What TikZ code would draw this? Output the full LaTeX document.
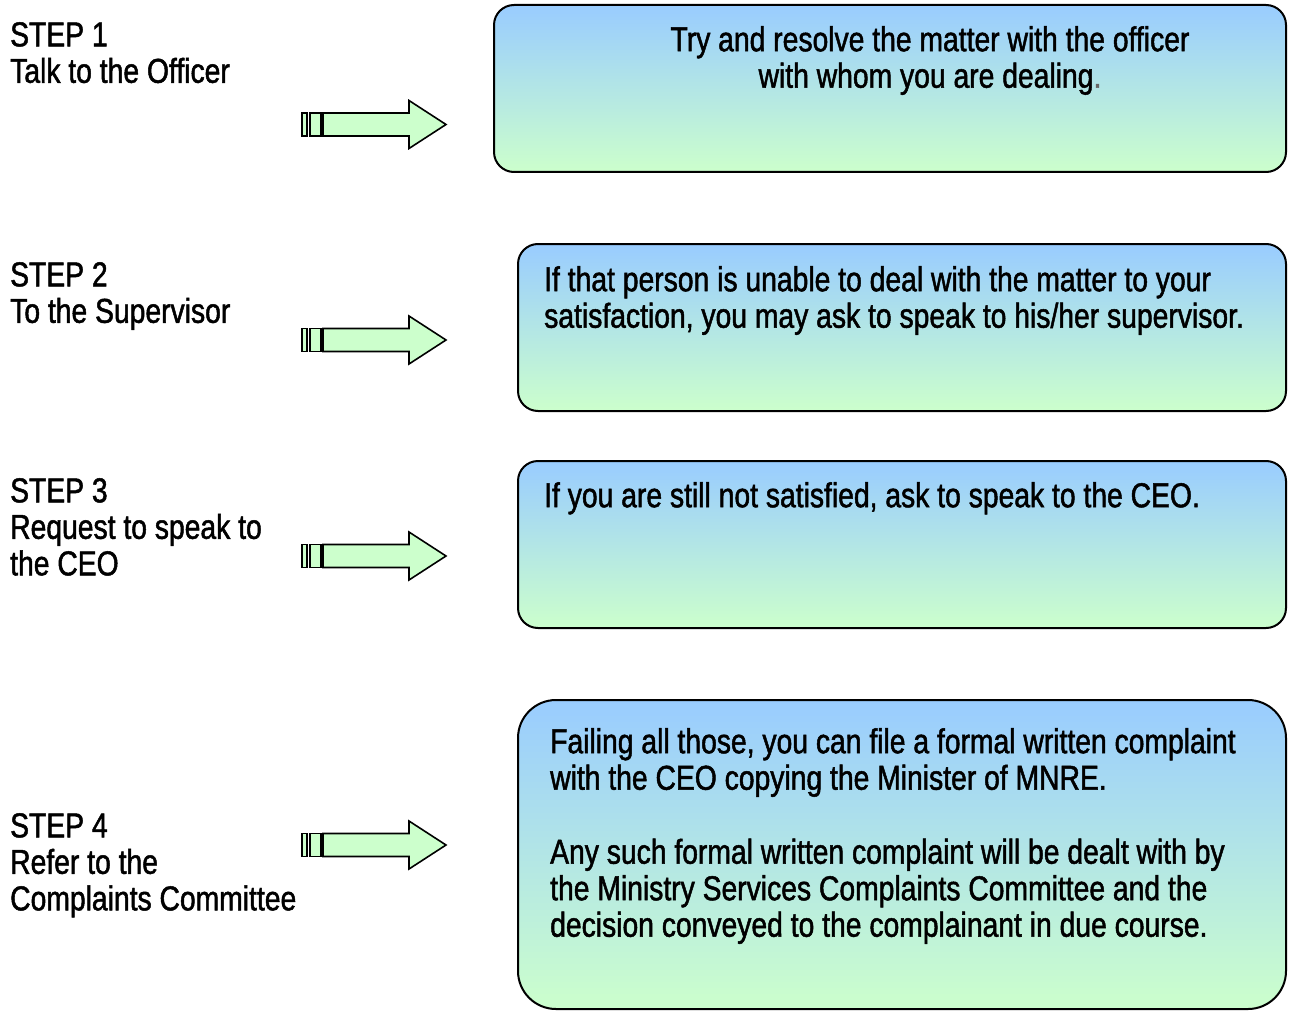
\documentclass[tikz,border=0pt]{standalone}
\usepackage{fontspec}
\setmainfont{Liberation Sans}[FakeStretch=0.82,FakeBold=1.4]
\definecolor{boxtop}{HTML}{99CCFF}
\definecolor{boxbot}{HTML}{CCFFCC}
\definecolor{arrowfill}{HTML}{CCFFCC}
\definecolor{periodgray}{HTML}{666666}
\tikzset{
  stepbox/.style={draw=black, line width=2pt, top color=boxtop, bottom color=boxbot},
  arrowpart/.style={draw=black, line width=1.6pt, fill=arrowfill, line join=miter},
  steptext/.style={inner sep=0pt, anchor=north west, align=left, font=\fontsize{34.5}{36.5}\selectfont},
  boxtext/.style={inner sep=0pt, anchor=north west, align=left, font=\fontsize{34.5}{36.5}\selectfont},
  steparrow/.pic={
    \draw[arrowpart] (1,-11.5) rectangle (6,11.5);
    \draw[arrowpart] (9,-11.5) rectangle (20,11.5);
    \draw[arrowpart] (22,-11.5) -- (108,-11.5) -- (108,-24) -- (145,0) -- (108,24) -- (108,11.5) -- (22,11.5) -- cycle;
  }
}
\begin{document}
\begin{tikzpicture}[x=1pt,y=-1pt]
\useasboundingbox[fill=white] (0,0) rectangle (1289,1011);
% boxes
\draw[stepbox, rounded corners=20pt] (494,5) rectangle (1286,172);
\draw[stepbox, rounded corners=20pt] (518,244) rectangle (1286,411);
\draw[stepbox, rounded corners=20pt] (518,461) rectangle (1286,628);
\draw[stepbox, rounded corners=38pt] (518,700) rectangle (1286,1009);
% arrows
\pic at (301,124.5) {steparrow};
\pic at (301,340) {steparrow};
\pic at (301,556) {steparrow};
\pic at (301,845) {steparrow};
% left labels
\node[steptext] (s1) at (10,22) {STEP 1\\Talk to the Officer};
\node[steptext] (s2) at (10,262) {STEP 2\\To the Supervisor};
\node[steptext] (s3) at (10,478) {STEP 3\\Request to speak to\\the CEO};
\node[steptext] (s4) at (10,813) {STEP 4\\Refer to the\\Complaints Committee};
% box texts
\node[boxtext, anchor=north, align=center] (t1) at (930,26) {Try and resolve the matter with the officer\\with whom you are dealing{\color{periodgray}.}};
\node[boxtext] (t2) at (544,266) {If that person is unable to deal with the matter to your\\satisfaction, you may ask to speak to his/her supervisor.};
\node[boxtext] (t3) at (544,482) {If you are still not satisfied, ask to speak to the CEO.};
\node[boxtext] (t4) at (550,728) {Failing all those, you can file a formal written complaint\\with the CEO copying the Minister of MNRE.\\[37.5pt]Any such formal written complaint will be dealt with by\\the Ministry Services Complaints Committee and the\\decision conveyed to the complainant in due course.};
\end{tikzpicture}
\end{document}
